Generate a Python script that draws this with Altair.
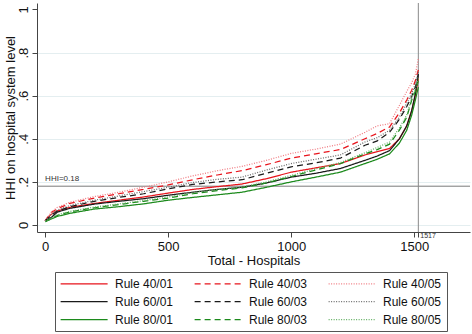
import altair as alt
import pandas as pd

# Hospital rank (sorted by HHI) at which each curve is sampled
ranks = [0, 25, 50, 100, 200, 300, 400, 500, 600, 700, 800, 900, 1000,
         1100, 1200, 1300, 1350, 1400, 1440, 1470, 1490, 1505, 1517]

# HHI on hospital-system level, one array per merger rule
rule_40_01 = [0.020, 0.050, 0.065, 0.082, 0.100, 0.115, 0.130, 0.148, 0.165, 0.178, 0.190, 0.215, 0.245,
              0.265, 0.285, 0.325, 0.340, 0.355, 0.400, 0.460, 0.530, 0.600, 0.680]
rule_60_01 = [0.018, 0.035, 0.060, 0.077, 0.097, 0.110, 0.122, 0.138, 0.152, 0.165, 0.175, 0.195, 0.222,
              0.240, 0.262, 0.300, 0.320, 0.345, 0.400, 0.460, 0.530, 0.610, 0.700]
rule_80_01 = [0.015, 0.028, 0.040, 0.054, 0.074, 0.085, 0.098, 0.115, 0.128, 0.140, 0.152, 0.175, 0.200,
              0.222, 0.245, 0.285, 0.305, 0.330, 0.380, 0.440, 0.510, 0.580, 0.640]
rule_40_03 = [0.020, 0.058, 0.076, 0.100, 0.125, 0.145, 0.165, 0.186, 0.210, 0.232, 0.252, 0.280, 0.310,
              0.330, 0.350, 0.400, 0.425, 0.455, 0.520, 0.580, 0.625, 0.670, 0.720]
rule_60_03 = [0.020, 0.045, 0.065, 0.085, 0.110, 0.128, 0.145, 0.168, 0.188, 0.200, 0.210, 0.240, 0.270,
              0.288, 0.310, 0.370, 0.390, 0.430, 0.490, 0.550, 0.595, 0.640, 0.700]
rule_80_03 = [0.016, 0.030, 0.045, 0.060, 0.080, 0.095, 0.110, 0.125, 0.145, 0.160, 0.172, 0.195, 0.225,
              0.255, 0.285, 0.330, 0.350, 0.375, 0.440, 0.500, 0.580, 0.620, 0.670]
rule_40_05 = [0.020, 0.060, 0.082, 0.105, 0.132, 0.152, 0.175, 0.200, 0.228, 0.252, 0.272, 0.300, 0.332,
              0.352, 0.375, 0.430, 0.460, 0.470, 0.555, 0.620, 0.660, 0.700, 0.770]
rule_60_05 = [0.020, 0.050, 0.070, 0.090, 0.115, 0.135, 0.155, 0.175, 0.197, 0.212, 0.222, 0.255, 0.285,
              0.305, 0.325, 0.385, 0.405, 0.440, 0.500, 0.565, 0.610, 0.655, 0.710]
rule_80_05 = [0.016, 0.032, 0.047, 0.063, 0.083, 0.098, 0.113, 0.130, 0.150, 0.165, 0.176, 0.200, 0.230,
              0.260, 0.290, 0.335, 0.360, 0.385, 0.450, 0.510, 0.590, 0.630, 0.680]

# Legend order: the 3-column legend fills column by column
rule_names = ["Rule 40/01", "Rule 60/01", "Rule 80/01",
              "Rule 40/03", "Rule 60/03", "Rule 80/03",
              "Rule 40/05", "Rule 60/05", "Rule 80/05"]
series = [rule_40_01, rule_60_01, rule_80_01,
          rule_40_03, rule_60_03, rule_80_03,
          rule_40_05, rule_60_05, rule_80_05]

hhi_threshold = 0.18
n_hospitals = 1517

RED, BLACK, GREEN = "#e8141c", "#1a1a1a", "#1c8a1c"
# dotted variants are drawn in lighter tints
RED_L, BLACK_L, GREEN_L = "#f07a80", "#6a6a6a", "#5fae5f"
line_colors = [RED, BLACK, GREEN] * 2 + [RED_L, BLACK_L, GREEN_L]
SOLID, DASHED, DOTTED = [1, 0], [6, 4], [1, 1.5]
line_dashes = [SOLID] * 3 + [DASHED] * 3 + [DOTTED] * 3

rows = []
for name, vals in zip(rule_names, series):
    for r, v in zip(ranks, vals):
        rows.append({"rule": name, "rank": r, "hhi": v})
df = pd.DataFrame(rows)

FONT = "Liberation Sans"
x_scale = alt.Scale(domain=[-33, 1727], nice=False, zero=False)
y_scale = alt.Scale(domain=[-0.0325, 1.03], nice=False, zero=False)

x_axis = alt.Axis(
    values=[0, 500, 1000, 1500, n_hospitals],
    labelExpr=f"datum.value == {n_hospitals} ? '' : format(datum.value, 'd')",
    title="Total -  Hospitals",
    grid=False,
)
y_axis = alt.Axis(
    values=[0, 0.2, 0.4, 0.6, 0.8, 1.0],
    labelExpr="datum.value == 0 ? '0' : datum.value == 1 ? '1' : replace(format(datum.value, '.1f'), '0.', '.')",
    labelAngle=270,
    labelAlign="center",
    labelBaseline="middle",
    labelPadding=9,
    title="HHI on hospital system level",
    titleX=-27,
    titleBaseline="middle",
    grid=True,
    gridColor="#e4eef0",
    gridOpacity={"condition": {"test": "datum.value == 1", "value": 0}, "value": 1},
)

lines = alt.Chart(df).mark_line(strokeWidth=1.25, clip=True).encode(
    x=alt.X("rank:Q", scale=x_scale, axis=x_axis),
    y=alt.Y("hhi:Q", scale=y_scale, axis=y_axis),
    color=alt.Color("rule:N", scale=alt.Scale(domain=rule_names, range=line_colors),
                    legend=alt.Legend(title=None)),
    strokeDash=alt.StrokeDash("rule:N", scale=alt.Scale(domain=rule_names, range=line_dashes),
                              legend=alt.Legend(title=None)),
    detail="rule:N",
)

hline = alt.Chart(pd.DataFrame({"hhi": [hhi_threshold]})).mark_rule(
    color="#7a7a7a", strokeWidth=1).encode(y=alt.Y("hhi:Q", scale=y_scale))
vline = alt.Chart(pd.DataFrame({"rank": [n_hospitals]})).mark_rule(
    color="#8a8a8a", strokeWidth=1).encode(x=alt.X("rank:Q", scale=x_scale))

hhi_label = alt.Chart(pd.DataFrame({"rank": [0], "hhi": [hhi_threshold], "t": ["HHI=0.18"]})).mark_text(
    align="left", baseline="bottom", dy=-3, fontSize=8, font=FONT, color="#333333"
).encode(x=alt.X("rank:Q", scale=x_scale), y=alt.Y("hhi:Q", scale=y_scale), text="t:N")

n_label = alt.Chart(pd.DataFrame({"rank": [n_hospitals], "hhi": [-0.0325], "t": [str(n_hospitals)]})).mark_text(
    align="left", baseline="middle", dx=2, dy=4, fontSize=7, font=FONT, color="#333333", clip=False
).encode(x=alt.X("rank:Q", scale=x_scale), y=alt.Y("hhi:Q", scale=y_scale), text="t:N")

# Legend key: a short horizontal stroke, drawn from a path wider than the unit box
# so the row height stays small while the sample line is long
legend_key = "M-1,0H7"

chart = alt.layer(hline, vline, lines, hhi_label, n_label).properties(
    width=433, height=229,
    autosize=alt.AutoSizeParams(type="none"),
    padding={"left": 37, "top": 3, "right": 2, "bottom": 102},
).configure_view(stroke=None).configure_axis(
    domainColor="#444444", tickColor="#444444", tickSize=5,
    labelFont=FONT, titleFont=FONT, labelFontSize=13, titleFontSize=13,
    labelColor="#111111", titleColor="#111111", titleFontWeight="normal",
).configure_axisX(titlePadding=1, labelPadding=3).configure_legend(
    orient="none", legendX=18, legendY=269, columns=3,
    symbolType=legend_key, symbolSize=138, symbolStrokeWidth=1.25,
    labelFont=FONT, labelFontSize=12, labelColor="#111111", labelOffset=42,
    columnPadding=18, rowPadding=5, padding=5,
    strokeColor="#555555", fillColor="white",
)

chart.save("out.html", embed_options={"renderer": "svg", "actions": False})
